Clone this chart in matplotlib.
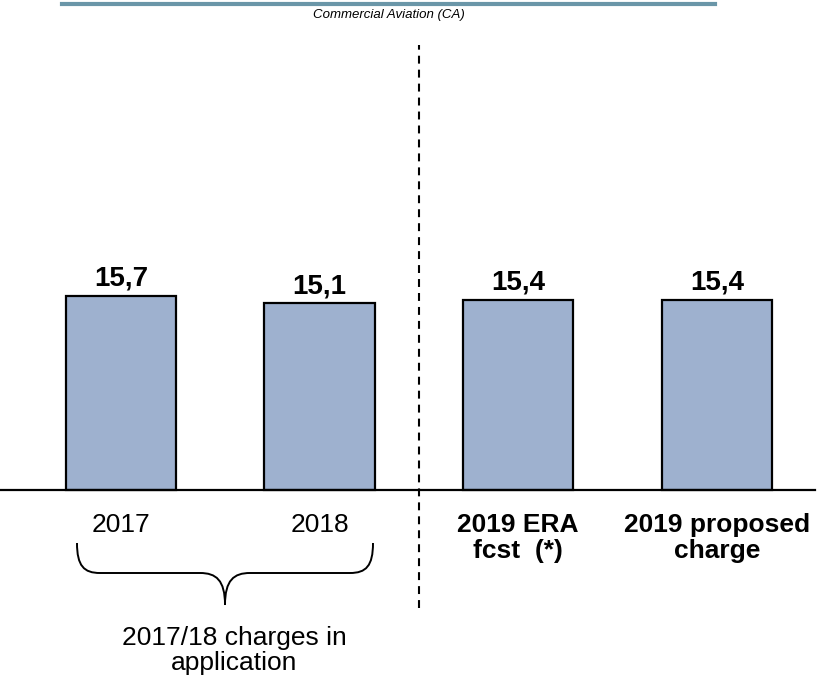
import matplotlib.pyplot as plt
from matplotlib.lines import Line2D
from matplotlib.path import Path
from matplotlib.patches import PathPatch

# ── Data ──────────────────────────────────────────────────────
categories = ['2017', '2018', '2019 ERA\nfcst  (*)', '2019 proposed\ncharge']
bold_category = [False, False, True, True]
values = [15.7, 15.1, 15.4, 15.4]
value_labels = ['15,7', '15,1', '15,4', '15,4']
title = 'Commercial Aviation (CA)'
brace_text = ['2017/18 charges in', 'application']

plt.rcParams['font.family'] = ['Liberation Sans', 'DejaVu Sans']

# ── Canvas geometry (pixels) ──────────────────────────────────
W, H = 824, 679
x0_px, step_px = 121, 198.6      # first bar centre, bar spacing
zero_px, unit_px = 490, 12.36    # baseline row, pixels per unit
PT = 72 / 100                    # pixels -> points at dpi 100


def to_data(px, py):
    return (px - x0_px) / step_px, (zero_px - py) / unit_px


fig = plt.figure(figsize=(W / 100, H / 100), dpi=100)
ax = fig.add_axes([0, 0, 1, 1])
ax.axis('off')
ax.set_xlim(-x0_px / step_px, (W - x0_px) / step_px)
ax.set_ylim(-(H - zero_px) / unit_px, zero_px / unit_px)

# ── Bars ──────────────────────────────────────────────────────
xs = list(range(len(values)))
ax.bar(xs, values, width=0.555, color='#9eb1cf', edgecolor='black',
       linewidth=1.6, zorder=2)
ax.axhline(0, xmin=0, xmax=815 / W, color='black', lw=1.6, zorder=3)

for x, v, lab in zip(xs, values, value_labels):
    ax.annotate(lab, (x, v), xytext=(0, 10 * PT), textcoords='offset points',
                ha='center', va='baseline', fontsize=20, fontweight='bold')

# category labels, one line at a time
for x, cat, bold in zip(xs, categories, bold_category):
    for k, line in enumerate(cat.split('\n')):
        ax.annotate(line, (x, 0), xytext=(0, -(42 + 26 * k) * PT),
                    textcoords='offset points', ha='center', va='baseline',
                    fontsize=19, fontweight='bold' if bold else 'normal')

# ── Separator between actual and forecast ─────────────────────
ax.axvline(1.5, ymin=1 - 608 / H, ymax=1 - 45 / H, color='black', lw=1.5,
           linestyle=(0, (3.8, 2.9)), zorder=1)

# ── Header rule and title ─────────────────────────────────────
fig.add_artist(Line2D([62 / W, 715 / W], [1 - 3.5 / H] * 2,
                      transform=fig.transFigure, color='#6a96a8', lw=3))
fig.text(389 / W, 1 - 18 / H, title, ha='center', va='baseline',
         fontsize=9.5, style='italic')

# ── Curly brace under 2017/2018 ───────────────────────────────
bl, br, tip = 77, 373, 225
top, mid, bot = 543, 573, 605
pts = [
    (bl, top), (bl, 566), (bl + 7, mid), (bl + 23, mid),
    (tip - 25, mid),
    (tip - 9, mid), (tip, 580), (tip, bot),
    (tip, 580), (tip + 9, mid), (tip + 25, mid),
    (br - 23, mid),
    (br - 7, mid), (br, 566), (br, top),
]
codes = [Path.MOVETO, Path.CURVE4, Path.CURVE4, Path.CURVE4,
         Path.LINETO,
         Path.CURVE4, Path.CURVE4, Path.CURVE4,
         Path.CURVE4, Path.CURVE4, Path.CURVE4,
         Path.LINETO,
         Path.CURVE4, Path.CURVE4, Path.CURVE4]
brace = Path([to_data(*p) for p in pts], codes)
ax.add_patch(PathPatch(brace, fill=False, edgecolor='black', lw=1.4))

for k, line in enumerate(brace_text):
    bx, by = to_data(234, 645 + 25 * k)
    ax.text(bx, by, line, ha='center', va='baseline', fontsize=19)

fig.savefig('out.png', dpi=100)
